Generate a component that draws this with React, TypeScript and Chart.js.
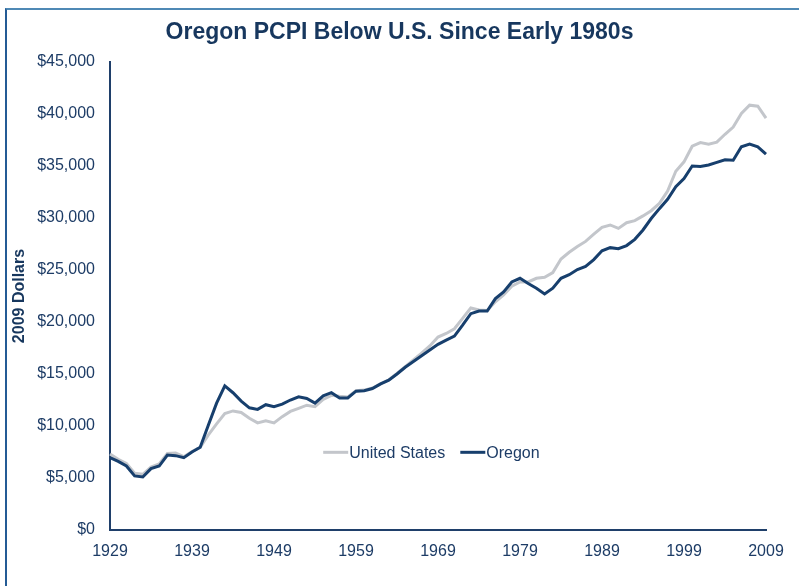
import React, { useEffect, useRef } from "react";
import { Chart, registerables } from "chart.js";

Chart.register(...registerables);

const years: string[] = Array.from({ length: 81 }, (_, i) => String(1929 + i));

const xTickLabels = ["1929", "1939", "1949", "1959", "1969", "1979", "1989", "1999", "2009"];

const usValues = [
  7300, 6800, 6400, 5450, 5350, 6050, 6350, 7350, 7400, 7050,
  7550, 7950, 9150, 10200, 11200, 11450, 11300, 10750, 10300, 10500,
  10300, 10900, 11400, 11700, 12000, 11850, 12550, 12950, 12850, 12800,
  13400, 13450, 13650, 14050, 14450, 15050, 15700, 16350, 17000, 17700,
  18550, 18900, 19350, 20350, 21350, 21150, 21100, 21950, 22600, 23450,
  23850, 23850, 24200, 24300, 24750, 26050, 26700, 27250, 27750, 28450,
  29100, 29330, 29000, 29550, 29750, 30200, 30700, 31400, 32600, 34500,
  35400, 36900, 37250, 37100, 37300, 38050, 38750, 40050, 40850, 40750,
  39600,
];

const oregonValues = [
  6950, 6600, 6150, 5200, 5100, 5900, 6150, 7200, 7150, 6950,
  7500, 7950, 10100, 12200, 13850, 13200, 12400, 11750, 11600, 12050,
  11850, 12100, 12500, 12800, 12650, 12200, 12900, 13200, 12700, 12700,
  13350, 13400, 13600, 14050, 14400, 15000, 15650, 16200, 16750, 17300,
  17850, 18250, 18650, 19700, 20800, 21050, 21050, 22250, 22900, 23850,
  24200, 23700, 23250, 22700, 23250, 24200, 24550, 25050, 25350, 26000,
  26850, 27150, 27050, 27350, 27950, 28850, 29950, 30900, 31800, 33000,
  33800, 35000, 34950, 35100, 35350, 35600, 35550, 36850, 37100, 36850,
  36150,
];

const seriesNames = ["United States", "Oregon"];
const seriesColors = ["#c3c6cb", "#173f6d"];

const FONT = "'Liberation Sans', Arial, Helvetica, sans-serif";
const TEXT = "#1d3c66";
const AXIS = "#1f3f6a";

const overlayPlugin = {
  id: "overlay",
  afterDraw(chart: any) {
    const { ctx, chartArea } = chart;
    ctx.save();
    // Title
    ctx.fillStyle = "#17375e";
    ctx.font = `bold 23px ${FONT}`;
    ctx.textAlign = "center";
    ctx.textBaseline = "middle";
    ctx.fillText("Oregon PCPI Below U.S. Since Early 1980s", chart.width / 2, 33);

    // Legend
    const w = chartArea.right - chartArea.left;
    const h = chartArea.bottom - chartArea.top;
    const ly = chartArea.top + h * 0.834;
    const items = [
      { x: chartArea.left + w * 0.325 },
      { x: chartArea.left + w * 0.534 },
    ];
    ctx.font = `16px ${FONT}`;
    ctx.textAlign = "left";
    items.forEach((it, i) => {
      ctx.strokeStyle = seriesColors[i];
      ctx.lineWidth = 3;
      ctx.beginPath();
      ctx.moveTo(it.x, ly);
      ctx.lineTo(it.x + 25, ly);
      ctx.stroke();
      ctx.fillStyle = TEXT;
      ctx.fillText(seriesNames[i], it.x + 26, ly + 1);
    });
    ctx.restore();
  },
};

export default function App() {
  const ref = useRef<HTMLCanvasElement | null>(null);

  useEffect(() => {
    if (!ref.current) return;
    const chart = new Chart(ref.current, {
      type: "line",
      data: {
        labels: years,
        datasets: [
          {
            label: seriesNames[0],
            data: usValues,
            borderColor: seriesColors[0],
            backgroundColor: seriesColors[0],
            borderWidth: 3,
            pointRadius: 0,
            tension: 0,
            order: 1,
          },
          {
            label: seriesNames[1],
            data: oregonValues,
            borderColor: seriesColors[1],
            backgroundColor: seriesColors[1],
            borderWidth: 3,
            pointRadius: 0,
            tension: 0,
            order: 0,
          },
        ],
      },
      options: {
        animation: false,
        responsive: false,
        devicePixelRatio: 1,
        layout: { padding: { top: 62, right: 33, left: 0, bottom: 0 } },
        plugins: {
          legend: { display: false },
          title: { display: false },
          tooltip: { enabled: false },
        },
        scales: {
          x: {
            type: "category",
            offset: false,
            grid: { display: false, drawTicks: false },
            border: { display: true, color: AXIS, width: 2 },
            ticks: {
              autoSkip: false,
              maxRotation: 0,
              minRotation: 0,
              padding: 12,
              color: TEXT,
              font: { family: FONT, size: 16 },
              callback: function (this: any, _v: any, index: number) {
                const lab = years[index];
                return xTickLabels.includes(lab) ? lab : null;
              },
            },
            afterFit: (scale: any) => {
              scale.height = 56;
            },
          },
          y: {
            min: 0,
            max: 45000,
            grid: { display: false, drawTicks: false },
            border: { display: true, color: AXIS, width: 2 },
            ticks: {
              stepSize: 5000,
              padding: 15,
              color: TEXT,
              font: { family: FONT, size: 16 },
              callback: (v: any) => "$" + Number(v).toLocaleString("en-US"),
            },
            title: {
              display: true,
              text: "2009 Dollars",
              color: "#17375e",
              font: { family: FONT, size: 16, weight: "bold" },
              padding: { top: 10, bottom: 0 },
            },
            afterFit: (scale: any) => {
              scale.width = 110;
            },
          },
        },
      },
      plugins: [overlayPlugin],
    });
    return () => chart.destroy();
  }, []);

  return (
    <div style={{ position: "fixed", left: 0, top: 0, width: 799, height: 586, background: "#fff", overflow: "hidden" }}>
      <div
        style={{
          position: "absolute",
          left: 5,
          top: 8,
          width: 900,
          height: 700,
          borderTop: "2px solid #4f89b5",
          borderLeft: "2px solid #245b95",
        }}
      />
      <canvas ref={ref} width={799} height={586} style={{ position: "absolute", left: 0, top: 0, width: 799, height: 586 }} />
    </div>
  );
}
